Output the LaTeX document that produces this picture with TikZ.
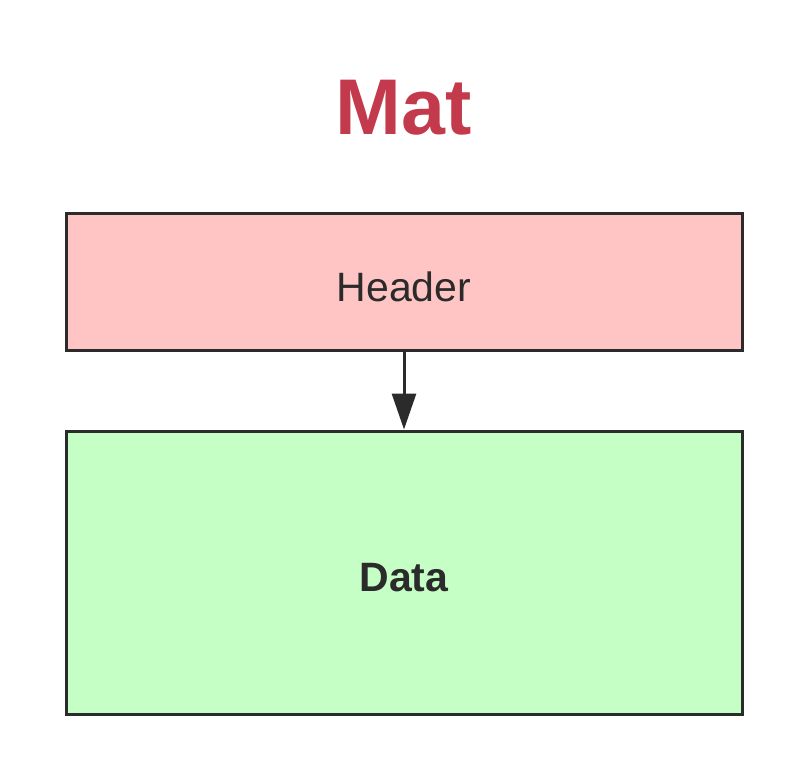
\documentclass[tikz,border=0pt]{standalone}
\usepackage{fontspec}
\setmainfont{Liberation Sans}
\usetikzlibrary{arrows.meta}
\definecolor{titlered}{HTML}{C23A4B}
\definecolor{hdrfill}{HTML}{FFC5C5}
\definecolor{datafill}{HTML}{C5FFC5}
\definecolor{ink}{HTML}{2B2B2B}
\tikzset{
  block/.style={draw=ink, line width=3pt, minimum width=676pt, inner sep=0pt, text=ink, text depth=0pt, font=\fontsize{41}{45}\selectfont},
  link/.style={draw=ink, line width=3pt, -{Triangle[length=36pt,width=24pt]}}
}
\begin{document}
\begin{tikzpicture}[x=1pt,y=-1pt]
\useasboundingbox (0,0) rectangle (810,762);
\node[text=titlered, font=\fontsize{79}{85}\selectfont\bfseries] (title) at (404,108) {Mat};
\node[block, fill=hdrfill, minimum height=137pt, text height=40pt] (header) at (404,281.5) {Header};
\node[block, fill=datafill, minimum height=283pt, text height=38pt, font=\fontsize{41}{45}\selectfont\bfseries] (data) at (404,572.5) {Data};
\draw[link] (header.south) -- (data.north);
\end{tikzpicture}
\end{document}
